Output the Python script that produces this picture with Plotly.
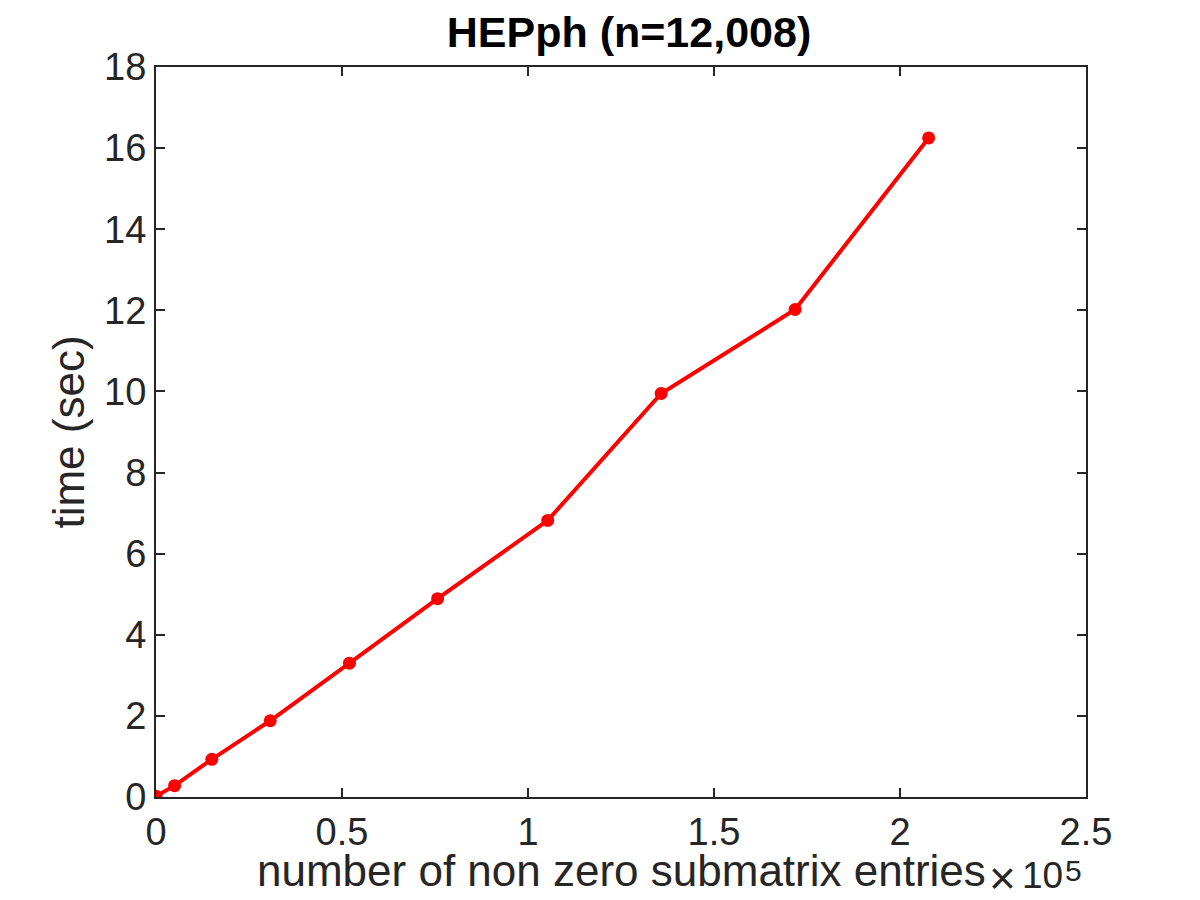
import plotly.graph_objects as go

# nonzero submatrix entries (x 1e5) vs time in seconds
nnz = [0, 0.05, 0.15, 0.307, 0.52, 0.757, 1.053, 1.358, 1.718, 2.077]
time_sec = [0.02, 0.28, 0.93, 1.88, 3.30, 4.89, 6.82, 9.95, 12.02, 16.25]

x_ticks = [0, 0.5, 1, 1.5, 2, 2.5]
x_labels = ["0", "0.5", "1", "1.5", "2", "2.5"]
y_ticks = [0, 2, 4, 6, 8, 10, 12, 14, 16, 18]

FONT = "Liberation Sans, Arial, Helvetica, sans-serif"
AX = "#262626"

fig = go.Figure()

fig.add_trace(go.Scatter(
    x=nnz,
    y=time_sec,
    mode="lines+markers",
    line=dict(color="#ff0000", width=4),
    marker=dict(color="#ff0000", size=13),
    showlegend=False
))

axis_common = dict(
    showgrid=False,
    zeroline=False,
    showline=True,
    linecolor=AX,
    linewidth=2,
    mirror="ticks",
    ticks="inside",
    ticklen=9,
    tickwidth=2,
    tickcolor=AX,
    tickfont=dict(family=FONT, size=38, color=AX),
)

fig.update_layout(
    width=1200,
    height=900,
    paper_bgcolor="white",
    plot_bgcolor="white",
    margin=dict(l=148, r=122, t=59, b=111),
    title=dict(
        text="<b>HEPph (n=12,008)</b>",
        x=0.5175, xanchor="center",
        y=0.9735, yanchor="middle",
        font=dict(family=FONT, size=43, color="black"),
    ),
    xaxis=dict(
        range=[0, 2.5],
        tickvals=x_ticks,
        ticktext=x_labels,
        **axis_common
    ),
    yaxis=dict(
        range=[0, 18],
        tickvals=y_ticks,
        title=dict(text="time (sec)",
                   font=dict(family=FONT, size=44, color=AX), standoff=6),
        **axis_common
    ),
    font=dict(family=FONT, color=AX),
)

# x axis title, placed by hand so it sits close to the tick labels
fig.add_annotation(
    text="number of non zero submatrix entries",
    xref="paper", yref="paper",
    x=0.5, y=-0.1005,
    xanchor="center", yanchor="middle",
    showarrow=False,
    font=dict(family=FONT, size=44, color=AX),
)

# MATLAB-style exponent label: x10^5
fig.add_annotation(
    text="\u00d7", xref="paper", yref="paper",
    x=0.927, y=-0.111, xanchor="right", yanchor="middle",
    showarrow=False, font=dict(family=FONT, size=46, color=AX),
)
fig.add_annotation(
    text="10", xref="paper", yref="paper",
    x=0.977, y=-0.108, xanchor="right", yanchor="middle",
    showarrow=False, font=dict(family=FONT, size=37, color=AX),
)
fig.add_annotation(
    text="5", xref="paper", yref="paper",
    x=0.998, y=-0.1, xanchor="right", yanchor="middle",
    showarrow=False, font=dict(family=FONT, size=30, color=AX),
)

fig.write_html("out.html")
